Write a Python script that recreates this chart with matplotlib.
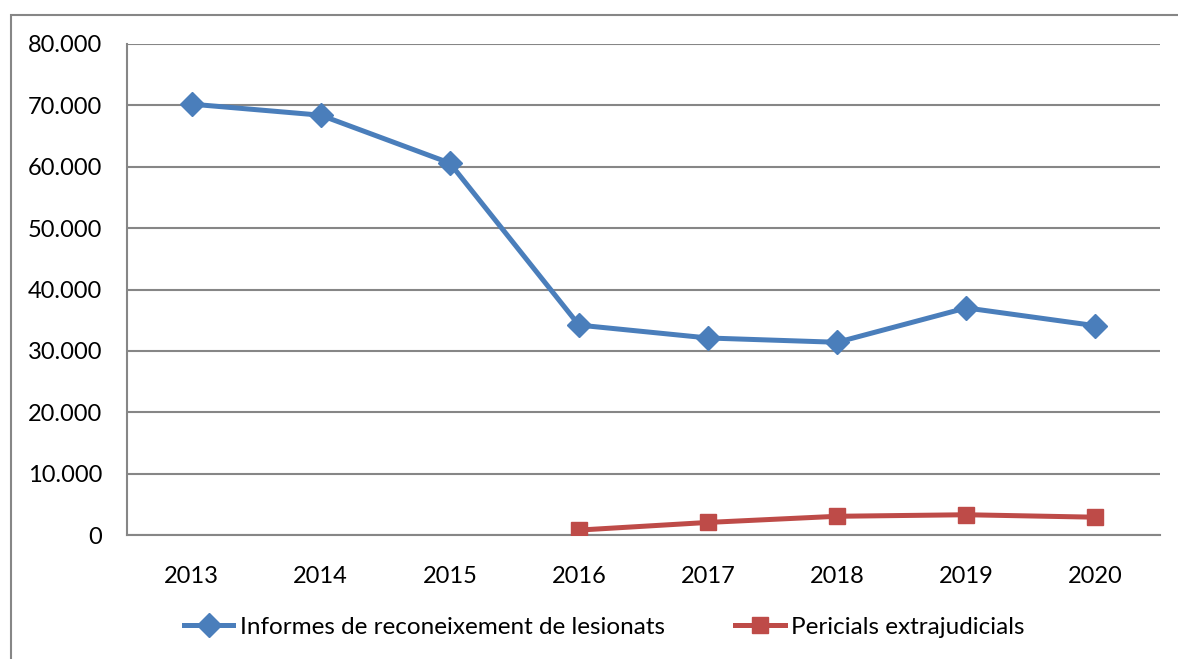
import matplotlib
matplotlib.use("Agg")
import matplotlib.pyplot as plt
from matplotlib.patches import Rectangle
from matplotlib.ticker import FuncFormatter

years = ["2013", "2014", "2015", "2016", "2017", "2018", "2019", "2020"]
informes = [70200, 68400, 60600, 34200, 32100, 31400, 37000, 34100]
pericials_years = ["2016", "2017", "2018", "2019", "2020"]
pericials = [800, 2050, 3050, 3300, 2900]

plt.rcParams['font.family'] = ['Lato', 'DejaVu Sans']

fig = plt.figure(figsize=(11.78, 6.59), dpi=100)
ax = fig.add_axes([127/1178, 1 - 535/659, (1160-127)/1178, (535-44)/659])

xi = list(range(len(years)))
xp = [years.index(y) for y in pericials_years]

ax.plot(xi, informes, color='#4A7EBB', lw=3.6, marker='D', ms=12,
        label='Informes de reconeixement de lesionats', zorder=3)
ax.plot(xp, pericials, color='#BE4B48', lw=3.6, marker='s', ms=12,
        label='Pericials extrajudicials', zorder=3)

ax.set_xlim(-0.5, len(years) - 0.5)
ax.set_ylim(0, 80000)
ax.set_yticks(range(0, 80001, 10000))
ax.yaxis.set_major_formatter(FuncFormatter(lambda v, p: f"{int(v):,}".replace(",", ".")))
ax.set_xticks(xi)
ax.set_xticklabels(years)
ax.tick_params(length=0, labelsize=17, pad=18)
ax.tick_params(axis='x', pad=22)
ax.grid(axis='y', color='#868686', lw=1.5)
ax.set_axisbelow(True)
for s in ['right', 'top']:
    ax.spines[s].set_visible(False)
ax.spines['left'].set_color('#868686')
ax.spines['bottom'].set_color('#868686')
ax.spines['left'].set_linewidth(1.5)
ax.spines['bottom'].set_linewidth(1.5)

fig.legend(loc='center', bbox_to_anchor=(604/1178, 1 - 627/659), ncol=2, frameon=False,
           fontsize=17.5, columnspacing=2.9, handlelength=2.05, handletextpad=0.25)

fig.add_artist(Rectangle((11/1178, -0.1), 1.2, (659-15)/659 + 0.1, transform=fig.transFigure,
                         fill=False, edgecolor='#868686', lw=1.5))

fig.savefig("out.png", dpi=100)
